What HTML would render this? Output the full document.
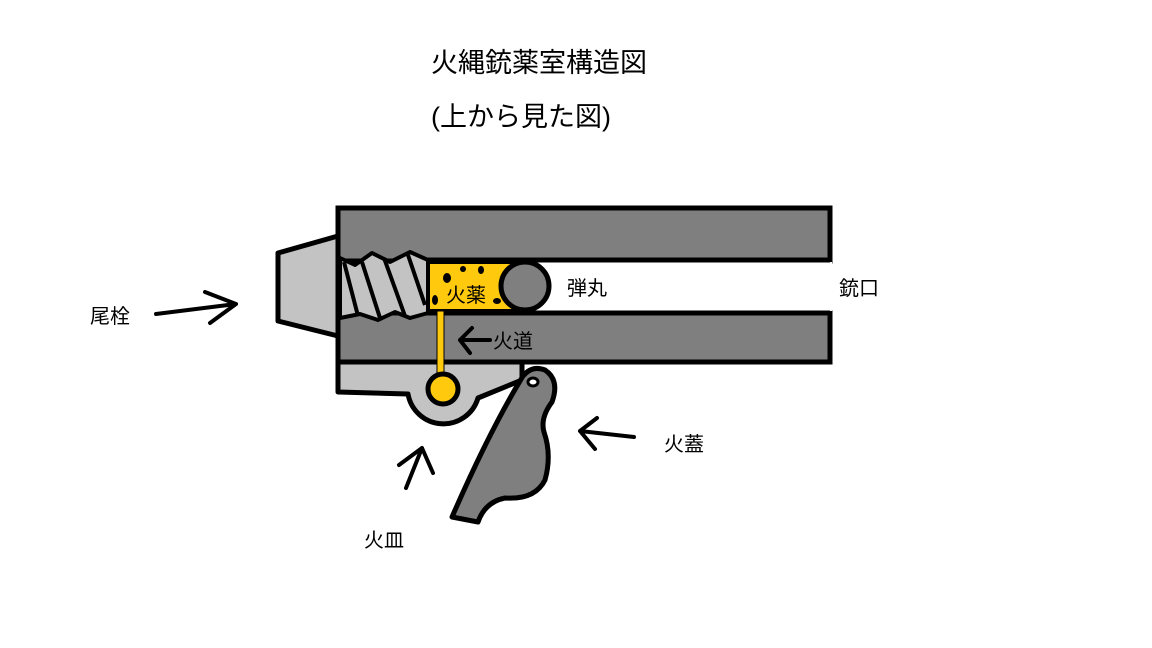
<!DOCTYPE html>
<html><head><meta charset="utf-8"><style>
html,body{margin:0;padding:0;background:#fff;}
svg{display:block;}
text{font-family:"Liberation Sans","Noto Sans CJK JP",sans-serif;fill:#000;}
</style></head><body>
<svg width="1152" height="648" viewBox="0 0 1152 648" xmlns="http://www.w3.org/2000/svg">
<text x="431" y="72" font-size="27">火縄銃薬室構造図</text>
<text x="431" y="126" font-size="27">(上から見た図)</text>

<!-- pan -->
<path d="M338,362 L338,392 L408,394 A36,36 0 0 0 478,398 L522,380 L522,362 Z" fill="#c3c3c3" stroke="#000" stroke-width="5" stroke-linejoin="round"/>
<!-- plug -->
<polygon points="278,253 338,236 338,336 278,321" fill="#c3c3c3" stroke="#000" stroke-width="5" stroke-linejoin="round"/>
<!-- barrels -->
<rect x="338" y="208" width="492" height="53" fill="#7f7f7f" stroke="#000" stroke-width="5"/>
<rect x="338" y="313" width="492" height="49" fill="#7f7f7f" stroke="#000" stroke-width="5"/>
<!-- bore -->
<rect x="428" y="262" width="404" height="49" fill="#fff"/>
<!-- breech threads -->
<path d="M340,258 L355,265 L372,253 L390,262 L410,252 L428,260 L428,313 L410,318 L395,312 L378,320 L360,314 L340,318 Z" fill="#c3c3c3" stroke="#000" stroke-width="4" stroke-linejoin="round"/>
<g stroke="#000" stroke-width="4">
<line x1="344" y1="262" x2="358" y2="316"/>
<line x1="362" y1="262" x2="380" y2="318"/>
<line x1="384" y1="258" x2="405" y2="316"/>
<line x1="408" y1="255" x2="425" y2="305"/>
</g>
<line x1="428" y1="260" x2="830" y2="260" stroke="#000" stroke-width="5"/>
<line x1="428" y1="313" x2="830" y2="313" stroke="#000" stroke-width="5"/>
<!-- powder -->
<rect x="428" y="262" width="90" height="49" fill="#ffc90e" stroke="#000" stroke-width="4"/>
<g fill="#000">
<ellipse cx="447" cy="278" rx="4" ry="5"/><ellipse cx="463" cy="269" rx="3" ry="3"/><ellipse cx="481" cy="270" rx="3" ry="4"/>
<ellipse cx="435" cy="300" rx="3" ry="5"/><ellipse cx="497" cy="301" rx="4" ry="3"/>
</g>
<text x="446" y="302" font-size="20">火薬</text>
<circle cx="525" cy="286" r="24" fill="#7f7f7f" stroke="#000" stroke-width="5"/>
<!-- flash hole -->
<rect x="437" y="311" width="7" height="68" fill="#ffc90e" stroke="#000" stroke-width="1"/>
<circle cx="443" cy="389" r="15" fill="#ffc90e" stroke="#000" stroke-width="5"/>
<!-- cover -->
<path d="M523,376 Q532,365 545,370 Q560,380 552,402 Q540,418 544,432 Q552,455 545,480 Q535,500 505,498 Q485,502 478,522 L452,517 Q490,430 523,376 Z" fill="#7f7f7f" stroke="#000" stroke-width="5" stroke-linejoin="round"/>
<ellipse cx="533" cy="382" rx="5" ry="4" fill="#fff" stroke="#000" stroke-width="3"/>
<!-- arrows -->
<g stroke="#000" stroke-width="4" fill="none" stroke-linecap="round" stroke-linejoin="round">
<path d="M156,314 L236,304 M205,292 L236,304 L210,323"/>
<path d="M490,340 L460,340 M472,328 L460,340 L470,353"/>
<path d="M406,488 L422,448 M399,465 L422,448 L433,473"/>
<path d="M634,437 L580,431 M597,418 L580,431 L595,449"/>
</g>
<text x="90" y="323" font-size="20">尾栓</text>
<text x="493" y="348" font-size="20">火道</text>
<text x="567" y="295" font-size="20">弾丸</text>
<text x="839" y="295" font-size="20">銃口</text>
<text x="664" y="451" font-size="20">火蓋</text>
<text x="364" y="547" font-size="20">火皿</text>
</svg>
</body></html>
